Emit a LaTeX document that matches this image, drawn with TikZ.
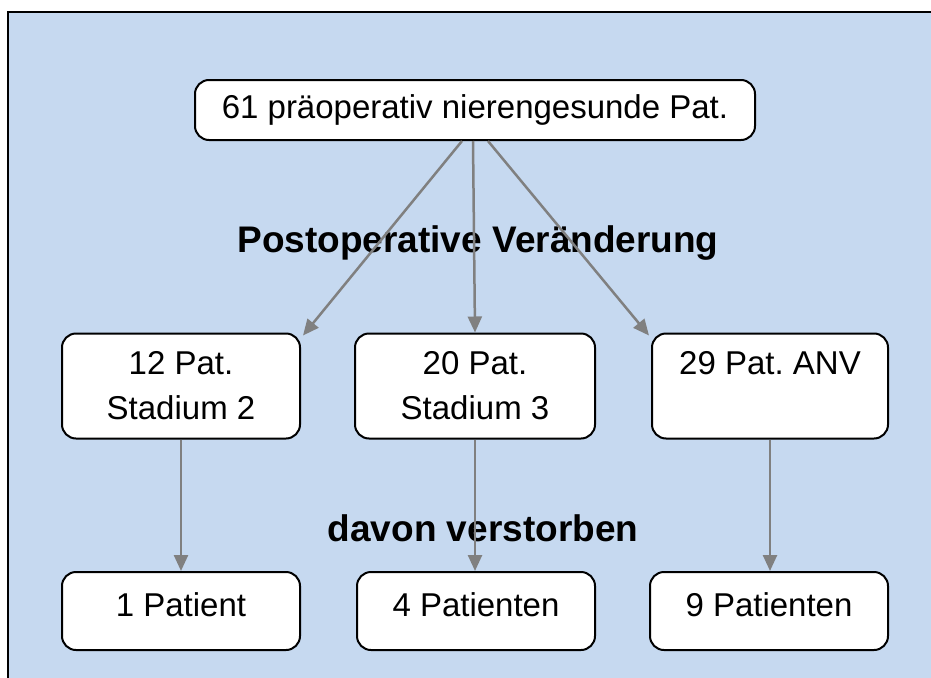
\documentclass[tikz,border=0pt]{standalone}
\usepackage{fontspec}
\setmainfont{Liberation Sans}
\usepackage{xcolor}
\usetikzlibrary{arrows.meta, positioning}
\definecolor{hintergrund}{HTML}{C6D9F0}
\definecolor{pfeilgrau}{HTML}{808080}
\frenchspacing

\begin{document}
\begin{tikzpicture}[x=1pt, y=-1pt,
    box/.style={draw=black, line width=2pt, fill=white, rounded corners=14pt, align=center, inner sep=0pt, font=\fontsize{33}{45}\selectfont},
    pfeil/.style={draw=pfeilgrau, line width=2.5pt, -{Triangle[length=16pt, width=14pt]}},
    titel/.style={font=\fontsize{37}{44}\selectfont\bfseries}]
                        \useasboundingbox (0,0) rectangle (931,677);
                        \begin{scope}
                            \clip (0,0) rectangle (931,677);
                            \draw[line width=2pt, fill=hintergrund] (8,12) rectangle (945,690);
                        \end{scope}
                        \node[box, minimum width=560pt, minimum height=60pt] (gesamt) at (475,110) {61 präoperativ nierengesunde Pat.};
                        \node[titel] (postop) at (478,243) {Postoperative Veränderung};
                        \node[box, minimum width=238pt, minimum height=105pt] (stad2) at (181,386) {12 Pat.\\Stadium 2};
                        \node[box, minimum width=240pt, minimum height=105pt] (stad3) at (475,386) {20 Pat.\\Stadium 3};
                        \node[box, minimum width=236pt, minimum height=105pt] (anv) at (770,386) {29 Pat. ANV\\\phantom{Stadium}};
                        \node[titel] (verst) at (483,528) {davon verstorben};
                        \node[box, minimum width=238pt, minimum height=78pt] (tot2) at (181,611) {1 Patient\rule[-12pt]{0pt}{1pt}};
                        \node[box, minimum width=238pt, minimum height=78pt] (tot3) at (476,611) {4 Patienten\rule[-12pt]{0pt}{1pt}};
                        \node[box, minimum width=238pt, minimum height=78pt] (totanv) at (769,611) {9 Patienten\rule[-12pt]{0pt}{1pt}};
                        \draw[pfeil] ([xshift=-13pt]gesamt.south) -- ([shift={(2pt,-3pt)}]stad2.north east);
                        \draw[pfeil] ([xshift=-2pt]gesamt.south) -- (stad3.north);
                        \draw[pfeil] ([xshift=13pt]gesamt.south) -- ([shift={(-2pt,-3pt)}]anv.north west);
                        \draw[pfeil] (stad2.south) -- (tot2.north);
                        \draw[pfeil] (stad3.south) -- (tot3.north -| stad3.south);
                        \draw[pfeil] (anv.south) -- (totanv.north -| anv.south);
                    \end{tikzpicture}
\end{document}
